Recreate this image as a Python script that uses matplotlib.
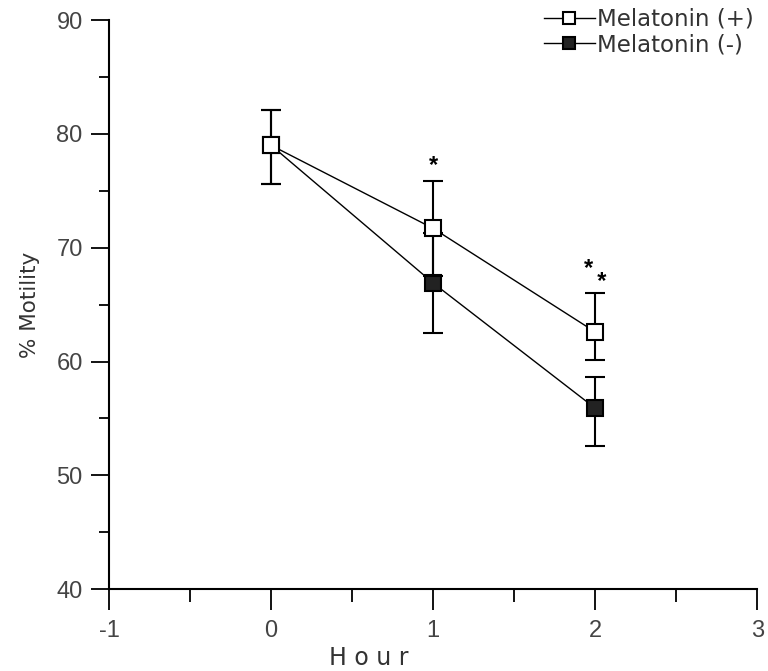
import matplotlib
matplotlib.use("Agg")
import matplotlib.pyplot as plt
from matplotlib.lines import Line2D
from matplotlib.ticker import MultipleLocator

plt.rcParams['font.family'] = ['DejaVu Sans']
plt.rcParams['axes.unicode_minus'] = False

# data
hours = [0, 1, 2]
mel_plus = [79.0, 71.7, 62.6]
mel_plus_lo = [3.4, 4.2, 2.5]
mel_plus_hi = [3.1, 4.2, 3.4]
mel_minus = [79.0, 66.9, 55.9]
mel_minus_lo = [3.4, 4.4, 3.3]
mel_minus_hi = [3.1, 4.4, 2.7]

# significance marks: (hour, y, text)
stars = [(1.0, 77.2, '*'), (2.0, 67.6, '*\n  *')]

txt = '#333333'

fig = plt.figure(figsize=(7.68, 6.71), dpi=100)
ax = fig.add_axes([0.142, 0.122, 0.844, 0.848])

# minus first so the open (+) marker sits on top at hour 0
ax.errorbar(hours, mel_minus, yerr=[mel_minus_lo, mel_minus_hi], color='black',
            lw=1, elinewidth=1.5, capsize=7, capthick=1.5, marker='s',
            ms=11, mfc='#222222', mec='black', mew=1.5, zorder=3)
ax.errorbar(hours, mel_plus, yerr=[mel_plus_lo, mel_plus_hi], color='black',
            lw=1, elinewidth=1.5, capsize=7, capthick=1.5, marker='s',
            ms=11, mfc='white', mec='black', mew=1.5, zorder=4)

for sx, sy, s in stars:
    ax.text(sx, sy, s, ha='center', va='center', fontsize=17,
            fontweight='bold', color='black', family='Liberation Sans',
            linespacing=0.5, multialignment='left')

ax.set_xlim(-1, 3)
ax.set_ylim(40, 90)
ax.xaxis.set_major_locator(MultipleLocator(1))
ax.xaxis.set_minor_locator(MultipleLocator(0.5))
ax.yaxis.set_major_locator(MultipleLocator(10))
ax.yaxis.set_minor_locator(MultipleLocator(5))

for s in ['top', 'right']:
    ax.spines[s].set_visible(False)
for s in ['left', 'bottom']:
    ax.spines[s].set_linewidth(1.5)

ax.tick_params(axis='x', which='major', length=15, width=1.3, direction='out',
               labelcolor='#444444', pad=7)
ax.tick_params(axis='x', which='minor', length=9, width=1.3, direction='out')
ax.tick_params(axis='y', which='major', length=13, width=1.3, direction='out',
               labelcolor='#444444', pad=6)
ax.tick_params(axis='y', which='minor', length=7, width=1.3, direction='out')
for lab in ax.get_xticklabels() + ax.get_yticklabels():
    lab.set_fontfamily('Liberation Sans')
    lab.set_fontsize(17)

ax.set_xlabel('H o u r', fontsize=17, color=txt)
ax.xaxis.set_label_coords(0.40, -0.10)
ax.set_ylabel('% Motility', fontsize=15.5, color=txt, labelpad=12)

handles = [
    Line2D([], [], color='black', lw=1, marker='s', ms=9, mfc='white',
           mec='black', mew=1.5),
    Line2D([], [], color='black', lw=1, marker='s', ms=9, mfc='#222222',
           mec='black', mew=1.5),
]
leg = ax.legend(handles, ['Melatonin (+)', 'Melatonin (-)'], loc='upper right',
                bbox_to_anchor=(1.012, 1.042), frameon=False, fontsize=16.5,
                handlelength=2.2, handletextpad=0.1, labelspacing=0.12,
                borderpad=0)
for t in leg.get_texts():
    t.set_color(txt)

fig.savefig('out.png', dpi=100)
